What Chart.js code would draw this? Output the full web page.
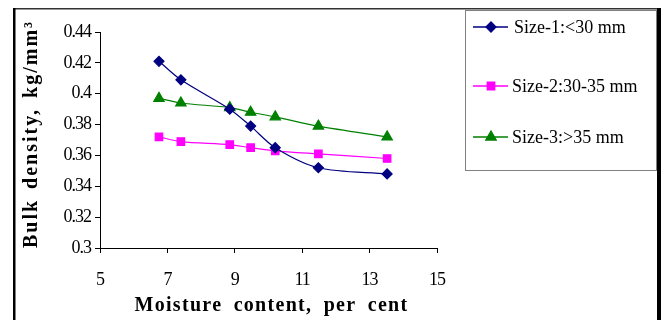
<!DOCTYPE html>
<html>
<head>
<meta charset="utf-8">
<script src="https://cdn.jsdelivr.net/npm/chart.js@4/dist/chart.umd.min.js"></script>
<style>
  html, body { margin: 0; padding: 0; background: #fff; }
  #wrap { width: 661px; height: 320px; }
</style>
</head>
<body>
<div id="wrap"><canvas id="c" width="661" height="320"></canvas></div>
<script>
// Moisture content (per cent) at which each size grade was measured
const moisture = [6.75, 7.40, 8.85, 9.47, 10.20, 11.48, 13.52];

// Bulk density (kg/mm³) for each size grade
const size1 = [0.421, 0.409, 0.390, 0.379, 0.365, 0.352, 0.348];
const size2 = [0.372, 0.369, 0.367, 0.365, 0.363, 0.361, 0.358];
const size3 = [0.397, 0.394, 0.391, 0.388, 0.385, 0.379, 0.372];

const seriesLabels = ['Size-1:<30 mm', 'Size-2:30-35 mm', 'Size-3:>35 mm'];
const xTitle = 'Moisture content, per cent';
const yTitle = 'Bulk density, kg/mm³';

const SERIF = '"Liberation Serif", "Times New Roman", serif';
Chart.defaults.font.family = SERIF;
Chart.defaults.color = '#000';

const points = vals => moisture.map((x, i) => ({ x, y: vals[i] }));

// white page, outer frame, axis titles and the boxed legend
const decorations = {
  id: 'decorations',
  beforeDraw(chart) {
    const ctx = chart.ctx;
    ctx.save();
    ctx.fillStyle = '#fff';
    ctx.fillRect(0, 0, chart.width, chart.height);
    ctx.restore();
    // tight digits for the tick labels drawn next
    ctx.letterSpacing = '-1px';
  },
  afterDraw(chart) {
    const ctx = chart.ctx;
    const area = chart.chartArea;
    ctx.save();

    // outer frame
    ctx.fillStyle = '#333';
    ctx.fillRect(13, 8, 646, 1.5);
    ctx.fillStyle = '#000';
    ctx.fillRect(13, 8, 2.5, chart.height - 8);
    ctx.fillRect(657, 8, 4, chart.height - 8);

    // axis titles
    ctx.fillStyle = '#000';
    ctx.font = 'bold 20px ' + SERIF;
    ctx.textBaseline = 'alphabetic';
    ctx.textAlign = 'center';
    ctx.letterSpacing = '1.3px';
    ctx.wordSpacing = '5px';
    ctx.fillText(xTitle, (area.left + area.right) / 2 + 3, 311);

    ctx.save();
    ctx.translate(37, 134);
    ctx.rotate(-Math.PI / 2);
    ctx.letterSpacing = '2px';
    ctx.wordSpacing = '3px';
    ctx.fillText(yTitle, 0, 0);
    ctx.restore();

    ctx.letterSpacing = '0px';
    ctx.wordSpacing = '0px';

    // legend box
    ctx.strokeStyle = '#808080';
    ctx.lineWidth = 1;
    ctx.strokeRect(465.5, 10.5, 191, 160);

    const rows = [27, 86, 137];
    const textX = [514, 512, 512];
    ctx.font = '18px ' + SERIF;
    ctx.textAlign = 'left';
    ctx.textBaseline = 'middle';
    chart.data.datasets.forEach((ds, i) => {
      const y = rows[i];
      ctx.strokeStyle = ds.borderColor;
      ctx.lineWidth = 1.3;
      ctx.beginPath();
      ctx.moveTo(473, y);
      ctx.lineTo(508, y);
      ctx.stroke();
      ctx.fillStyle = ds.backgroundColor;
      ctx.strokeStyle = ds.borderColor;
      Chart.helpers.drawPoint(ctx, {
        pointStyle: ds.pointStyle, radius: ds.pointRadius, rotation: 0, borderWidth: 1
      }, 491, y);
      ctx.fillStyle = '#000';
      ctx.fillText(ds.label, textX[i], y + 1);
    });

    ctx.restore();
  }
};

new Chart(document.getElementById('c'), {
  type: 'line',
  data: {
    datasets: [
      {
        label: seriesLabels[0], data: points(size1),
        borderColor: '#000080', backgroundColor: '#000080',
        pointStyle: 'rectRot', pointRadius: 5, borderWidth: 1.2
      },
      {
        label: seriesLabels[1], data: points(size2),
        borderColor: '#ff00ff', backgroundColor: '#ff00ff',
        pointStyle: 'rect', pointRadius: 5.3, borderWidth: 1.2
      },
      {
        label: seriesLabels[2], data: points(size3),
        borderColor: '#008000', backgroundColor: '#008000',
        pointStyle: 'triangle', pointRadius: 6, borderWidth: 1.2
      }
    ]
  },
  options: {
    responsive: false,
    animation: false,
    devicePixelRatio: 1,
    layout: { padding: { left: 0, top: 32, right: 224, bottom: 0 } },
    elements: { line: { tension: 0.3 }, point: { borderWidth: 1 } },
    plugins: { legend: { display: false }, tooltip: { enabled: false } },
    scales: {
      x: {
        type: 'linear', min: 5, max: 15,
        ticks: { stepSize: 2, font: { size: 18 }, color: '#000', padding: 16 },
        grid: { drawOnChartArea: false, drawTicks: true, tickLength: 5, color: '#000' },
        border: { display: true, color: '#000', width: 1 },
        afterFit: s => { s.height = 72; }
      },
      y: {
        min: 0.3, max: 0.44,
        ticks: {
          stepSize: 0.02, font: { size: 18 }, color: '#000', padding: 4,
          callback: v => String(+v.toFixed(2))
        },
        grid: { drawOnChartArea: false, drawTicks: true, tickLength: 5, color: '#000' },
        border: { display: true, color: '#000', width: 1 },
        afterFit: s => { s.width = 100; }
      }
    }
  },
  plugins: [decorations]
});
</script>
</body>
</html>
